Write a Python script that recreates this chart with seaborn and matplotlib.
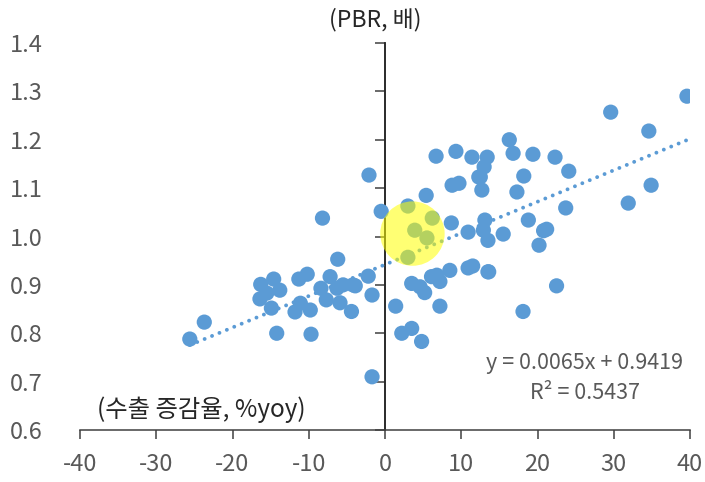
import numpy as np
import pandas as pd
import matplotlib.pyplot as plt
import seaborn as sns

# export growth (%yoy) vs PBR
export_growth = [
    -25.6, -23.7, -16.3, -14.6, -13.8, -16.4, -14.9, -15.5, -14.2,
    -11.3, -10.2, -11.8, -11.1, -9.8, -9.7, -8.2, -6.2, -7.2, -8.4,
    -6.3, -5.5, -3.9, -7.7, -5.9, -4.4, -4.2, -2.2, -1.7, -2.1, -0.5, -1.7,
    1.4, 2.2, 3.5, 4.8, 3.5, 4.6, 5.2, 6.1, 6.8, 7.2, 8.5, 10.9, 11.5,
    13.5, 7.2, 3.0, 6.2, 3.9, 5.5, 3.0, 5.4, 8.8, 9.7, 12.5, 12.7, 8.7,
    10.9, 13.1, 12.9, 13.5, 15.5, 6.7, 9.3, 11.4, 13.4, 13.0, 12.3,
    16.3, 16.8, 19.4, 22.3, 24.1, 18.2, 17.3, 23.7, 18.8, 21.2, 20.8,
    20.2, 22.5, 18.1, 13.6, 29.6, 34.6, 39.6, 34.9, 31.9,
]
pbr = [
    0.788, 0.823, 0.901, 0.912, 0.889, 0.871, 0.852, 0.883, 0.800,
    0.912, 0.922, 0.844, 0.862, 0.848, 0.798, 1.038, 0.953, 0.917, 0.893,
    0.893, 0.900, 0.898, 0.869, 0.863, 0.845, 0.900, 0.918, 0.879, 1.127, 1.052, 0.710,
    0.856, 0.800, 0.810, 0.783, 0.903, 0.896, 0.884, 0.917, 0.920, 0.907, 0.930, 0.935, 0.939,
    0.927, 0.856, 1.063, 1.038, 1.013, 0.997, 0.957, 1.085, 1.106, 1.110, 1.123, 1.096, 1.028,
    1.009, 1.034, 1.013, 0.992, 1.005, 1.166, 1.176, 1.164, 1.164, 1.144, 1.123,
    1.200, 1.172, 1.170, 1.164, 1.135, 1.125, 1.092, 1.059, 1.034, 1.015, 1.012,
    0.982, 0.898, 0.845, 0.927, 1.257, 1.218, 1.290, 1.106, 1.069,
]

# trendline shown on the chart
slope = 0.0065
intercept = 0.9419
r_squared = 0.5437

# highlighted zone (yellow circle)
highlight_x = 3.6
highlight_y = 1.006

x_ticks = [-40, -30, -20, -10, 0, 10, 20, 30, 40]
y_ticks = [0.6, 0.7, 0.8, 0.9, 1.0, 1.1, 1.2, 1.3, 1.4]

df = pd.DataFrame({'growth': export_growth, 'pbr': pbr})

sns.set_theme(style='white')
plt.rcParams['font.family'] = ['Noto Sans CJK KR', 'DejaVu Sans']

blue = '#5B9BD5'
grey = '#595959'
axis_col = '#404040'

fig = plt.figure(figsize=(7.05, 4.82), dpi=100)
ax = fig.add_axes([80 / 705, 1 - 430 / 482, 610 / 705, 387 / 482])

sns.scatterplot(data=df, x='growth', y='pbr', ax=ax, color=blue, s=120,
                edgecolor='none', linewidth=0, zorder=3)

# trendline over the data range
xs = np.array([df['growth'].min(), df['growth'].max()])
ax.plot(xs, slope * xs + intercept, color=blue, lw=2.8,
        linestyle=(0, (0.01, 2.05)), dash_capstyle='round', zorder=2)

# yellow highlight
ax.scatter([highlight_x], [highlight_y], s=2150, color='#FFFF00', alpha=0.55,
           edgecolor='none', zorder=4)

ax.set_xlim(-40, 40)
ax.set_ylim(0.6, 1.4)
ax.set_xticks(x_ticks)
ax.set_yticks(y_ticks)
ax.set_xticklabels([str(t) for t in x_ticks])
ax.set_yticklabels([f'{t:.1f}' for t in y_ticks])
ax.set_xlabel('')
ax.set_ylabel('')

for side in ['top', 'right', 'left']:
    ax.spines[side].set_visible(False)
ax.spines['bottom'].set_color(axis_col)
ax.spines['bottom'].set_linewidth(1.1)

ax.tick_params(axis='x', direction='out', length=6.5, width=1.1, color=axis_col,
               labelsize=17, labelcolor=grey, pad=10, bottom=True)
ax.tick_params(axis='y', length=0, labelsize=17, labelcolor=grey, pad=27)

# vertical axis line crossing at x = 0
sec = ax.secondary_yaxis(0.5)
sec.set_yticks(y_ticks)
sec.set_yticklabels([])
sec.yaxis.set_ticks_position('left')
sec.tick_params(axis='y', direction='out', length=7, width=1.1, color=axis_col,
                labelleft=False, labelright=False)
sec.spines['left'].set_color(axis_col)
sec.spines['left'].set_linewidth(1.1)
sec.spines['left'].set_visible(True)

fig.text(375 / 705, 1 - 20 / 482, '(PBR, 배)', ha='center', va='center',
         fontsize=16.5, color='#262626')
ax.text(-37.8, 0.641, '(수출 증감율, %yoy)', ha='left', va='center',
        fontsize=17.5, color='#262626')
ax.text(26.2, 0.739, f'y = {slope}x + {intercept}', ha='center', va='center',
        fontsize=15.5, color=grey)
ax.text(26.2, 0.677, f'R² = {r_squared}', ha='center', va='center',
        fontsize=15.5, color=grey)

fig.savefig('out.png', dpi=100)
